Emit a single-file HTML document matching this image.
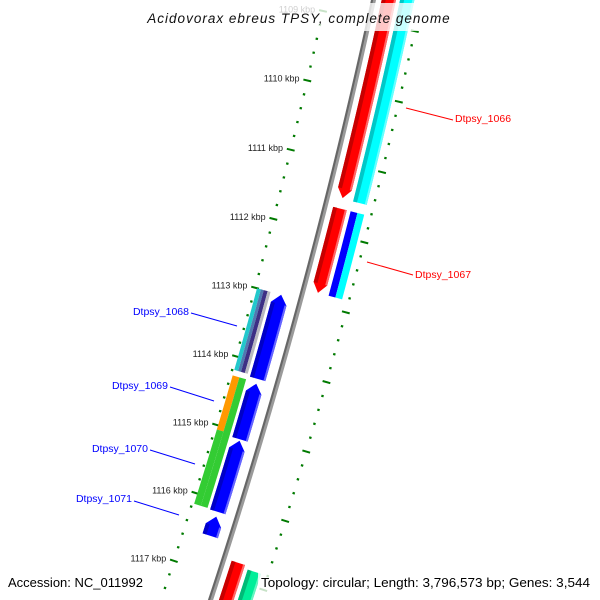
<!DOCTYPE html>
<html><head><meta charset="utf-8"><style>
html,body{margin:0;padding:0;background:#fff;width:600px;height:600px;overflow:hidden;}
svg{display:block;font-family:"Liberation Sans",sans-serif;overflow:hidden;}
</style></head><body>
<svg id="map" width="600" height="600" viewBox="0 0 600 600" xmlns="http://www.w3.org/2000/svg">
<g id="ticks"></g>
<g id="backbone"></g>
<g id="feats"></g>
<g id="labels"></g>
<g font-size="10.5">
  <line x1="406" y1="108" x2="453" y2="120" stroke="#ff0000" stroke-width="1"/>
  <text x="455" y="122" fill="#ff0000">Dtpsy_1066</text>
  <line x1="367" y1="262" x2="413" y2="275" stroke="#ff0000" stroke-width="1"/>
  <text x="415" y="278" fill="#ff0000">Dtpsy_1067</text>
  <line x1="191" y1="313" x2="237" y2="326" stroke="#0000ff" stroke-width="1"/>
  <text x="189" y="315" fill="#0000ff" text-anchor="end">Dtpsy_1068</text>
  <line x1="170" y1="387" x2="214" y2="401" stroke="#0000ff" stroke-width="1"/>
  <text x="168" y="389" fill="#0000ff" text-anchor="end">Dtpsy_1069</text>
  <line x1="150" y1="450" x2="195" y2="464" stroke="#0000ff" stroke-width="1"/>
  <text x="148" y="452" fill="#0000ff" text-anchor="end">Dtpsy_1070</text>
  <line x1="134" y1="501" x2="179" y2="515" stroke="#0000ff" stroke-width="1"/>
  <text x="132" y="502" fill="#0000ff" text-anchor="end">Dtpsy_1071</text>
</g>
<rect x="144" y="3" width="312" height="28" fill="#fff" fill-opacity="0.78"/>
<text x="299" y="23" text-anchor="middle" font-size="13.5" font-style="italic" letter-spacing="1" fill="#111">Acidovorax ebreus TPSY, complete genome</text>
<rect x="5" y="572" width="141" height="22" fill="#fff" fill-opacity="0.78"/>
<text x="8" y="587" font-size="13" fill="#000" textLength="135" lengthAdjust="spacingAndGlyphs">Accession: NC_011992</text>
<rect x="258" y="572" width="337" height="22" fill="#fff" fill-opacity="0.78"/>
<text x="261" y="587" font-size="13" fill="#000" textLength="329" lengthAdjust="spacingAndGlyphs">Topology: circular; Length: 3,796,573 bp; Genes: 3,544</text>
</svg>
<script>
const tickMajorKbp=[1109,1110,1111,1112,1113,1114,1115,1116,1117,1118];
const tickLabels=["1109 kbp","1110 kbp","1111 kbp","1112 kbp","1113 kbp","1114 kbp","1115 kbp","1116 kbp","1117 kbp","1118 kbp"];
const featNames=["red-1066","cyan-1066","red-1067","blue-1067a","cyan-1067b","blue-1068","blue-1069","blue-1070","blue-1071","stripe-1068a","stripe-1068b","stripe-1068c","stripe-1068d","orange-1069","green-1069","green-1070","red-next","mint-next"];
const featStart=[1108.0,1108.0,1111.63,1111.63,1111.63,1113.0,1114.29,1115.12,1116.23,1113.0,1113.0,1113.0,1113.0,1114.27,1114.27,1115.06,1116.75,1116.8];
const featEnd=[1111.48,1111.49,1112.84,1112.84,1112.84,1114.22,1115.1,1116.16,1116.51,1114.19,1114.19,1114.19,1114.19,1115.06,1116.15,1116.15,1118.0,1118.0];
const featLane=["F1","F2","F1","F2a","F2b","R1","R1","R1","R1","Rs1","Rs2","Rs3","Rs4","R2a","R2b","R2a","F1","F2"];
const featColor=["#ff0000","#00ffff","#ff0000","#0000ff","#00ffff","#0000ff","#0000ff","#0000ff","#0000ff","#22c8cc","#4f79b0","#3d2f85","#b8b8c0","#ff9900","#33cc33","#33cc33","#ff0000","#00ee99"];
const featArrow=[1,0,1,0,0,-1,-1,-1,-1,0,0,0,0,0,0,0,1,0];

const CX=-5389,CY=-1243,R0=5895;
const lanes={F1:[8,22],F2:[26,40],F2a:[26,33],F2b:[33,40],R1:[-28,-12],R2a:[-45,-38],R2b:[-38,-31],Rs1:[-45,-41],Rs2:[-41,-38],Rs3:[-38,-34],Rs4:[-34,-31]};
const NS="http://www.w3.org/2000/svg";
function ang(k){return (13.08+(k-1110)*0.698)*Math.PI/180;}
function pt(k,r){const t=ang(k);return [CX+r*Math.cos(t),CY+r*Math.sin(t)];}
function arc(k1,k2,r){const out=[];const n=Math.max(2,Math.ceil(Math.abs(k2-k1)/0.05));for(let i=0;i<=n;i++){out.push(pt(k1+(k2-k1)*i/n,r));}return out;}
function mk(tag,parent,attrs){const e=document.createElementNS(NS,tag);for(const a in attrs)e.setAttribute(a,attrs[a]);parent.appendChild(e);return e;}
function P(a){return a.map(p=>p[0].toFixed(2)+","+p[1].toFixed(2)).join(" ");}
function shade(c,f){const n=parseInt(c.slice(1),16);let r=n>>16,g=(n>>8)&255,b=n&255;
 if(f<0){r*=1+f;g*=1+f;b*=1+f;}else{r+=(255-r)*f;g+=(255-g)*f;b+=(255-b)*f;}
 return "rgb("+Math.round(r)+","+Math.round(g)+","+Math.round(b)+")";}

const tg=document.getElementById('ticks');
const lg=document.getElementById('labels');
for(let i=0;i<tickMajorKbp.length;i++){
 const k=tickMajorKbp[i];
 [R0-47,R0+47].forEach(r=>{
  const a=pt(k,r-4),b=pt(k,r+4);
  const l=mk('line',tg,{x1:a[0],y1:a[1],x2:b[0],y2:b[1],stroke:'#007a00','stroke-width':2});
  
  
  for(let j=1;j<5;j++){
   const c=pt(k+j*0.2,r-1.2),d=pt(k+j*0.2,r+1.2);
   const m=mk('line',tg,{x1:c[0],y1:c[1],x2:d[0],y2:d[1],stroke:'#007a00','stroke-width':2.2});
   
   
  }
 });
 const p=pt(k,R0-55);
 const t=mk('text',lg,{x:p[0],y:p[1]+3,'text-anchor':'end','font-size':9,fill:'#222'});
 
 
 t.textContent=tickLabels[i];
}

const bg=document.getElementById('backbone');
const b1=mk('polyline',bg,{points:P(arc(1108,1118,R0)),fill:'none',stroke:'#9a9a9a','stroke-width':5});


const b2=mk('polyline',bg,{points:P(arc(1108,1118,R0-1.3)),fill:'none',stroke:'#666','stroke-width':2});



const fg=document.getElementById('feats');
const AH=0.13;
for(let i=0;i<featStart.length;i++){
 const k1=featStart[i],k2=featEnd[i],ln=lanes[featLane[i]],dir=featArrow[i],col=featColor[i];
 const ri=R0+ln[0],ro=R0+ln[1],rm=(ri+ro)/2;
 let pts,b1k=k1,b2k=k2;
 if(dir>0){b2k=k2-AH;pts=arc(k1,b2k,ri).concat([pt(k2,rm)],arc(b2k,k1,ro));}
 else if(dir<0){b1k=k1+AH;pts=[pt(k1,rm)].concat(arc(b1k,k2,ri),arc(k2,b1k,ro));}
 else{pts=arc(k1,k2,ri).concat(arc(k2,k1,ro));}
 const g=mk('g',fg,{});
 
 
 mk('polygon',g,{points:P(pts),fill:col});
 const w=ln[1]-ln[0];
 if(w>8){
  mk('polyline',g,{points:P(arc(b1k,b2k,ri+2)),fill:'none',stroke:shade(col,-0.22),'stroke-width':4});
  mk('polyline',g,{points:P(arc(b1k,b2k,ro-1)),fill:'none',stroke:shade(col,0.4),'stroke-width':2});
 }
}
</script>
</body></html>
